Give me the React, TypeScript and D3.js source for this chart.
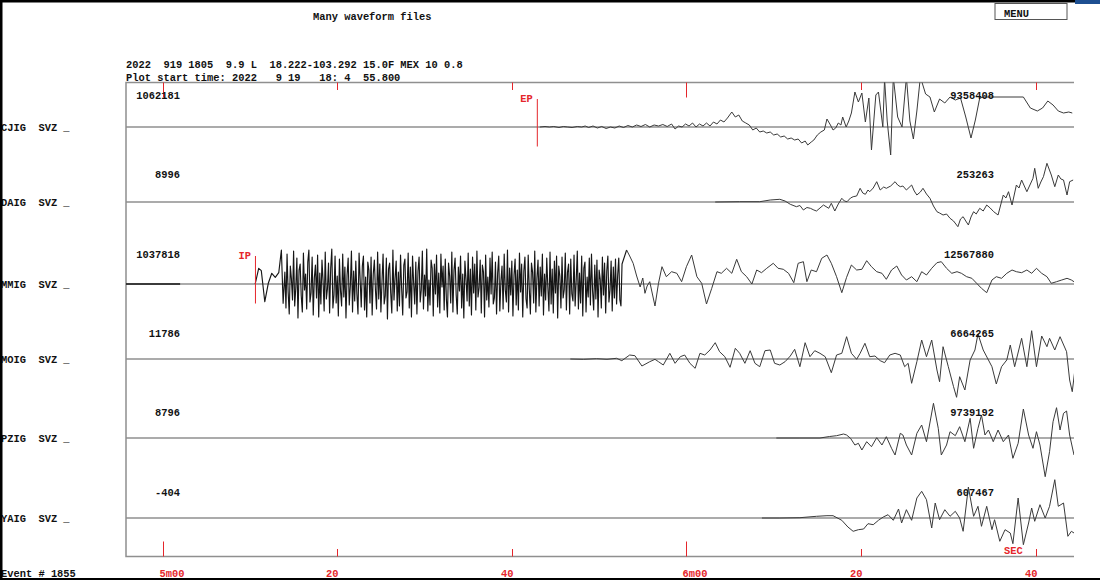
import React from "react";
import * as d3 from "d3";

type Pt = [number, number];

// ---------- texts ----------
const TITLE = "Many waveform files";
const HEADER_1 = "2022  919 1805  9.9 L  18.222-103.292 15.0F MEX 10 0.8";
const HEADER_2 = "Plot start time: 2022   9 19   18: 4  55.800";
const EVENT_LABEL = "Event # 1855";
const MENU_LABEL = "MENU";
const UNIT_LABEL = "SEC";

// ---------- channels ----------
const STATIONS = ["CJIG", "DAIG", "MMIG", "MOIG", "PZIG", "YAIG"];
const COMPONENT = "SVZ";
const LEFT_AMPS = ["1062181", "8996", "1037818", "11786", "8796", "-404"];
const RIGHT_AMPS = ["9358408", "253263", "12567880", "6664265", "9739192", "607467"];

// ---------- time axis (seconds after plot start 18:04:55.8) ----------
const PLOT_SECONDS = 108.6;
const TICK_TIMES = [4.2, 24.2, 44.2, 64.2, 84.2, 104.2];
const TICK_LABELS = ["5m00", "20", "40", "6m00", "20", "40"];
const TICK_MAJOR = [true, false, false, true, false, false];

// ---------- phase picks ----------
const PHASE_STATIONS = ["CJIG", "MMIG"];
const PHASE_NAMES = ["EP", "IP"];
const PHASE_TIMES = [47.12, 14.83];

// ---------- waveforms: [seconds, relative amplitude] ----------
const CJIG: Pt[] = [
  [47.4, 0], [48.0, 0.5], [48.5, 0], [49.0, 0.5], [49.6, -0.5], [50.1, 0.5], [50.6, 0], [51.1, -0.5],
  [51.7, 0.5], [52.2, 0], [52.6, 1], [53.0, -0.5], [53.5, 1], [54.0, -1], [54.5, 0.5], [55.0, -1.5],
  [55.5, 0], [56.0, -1], [56.5, 1], [57.0, -0.5], [57.5, 1.5], [58.0, 0], [58.5, 2], [59.0, 0.5],
  [59.5, 2.5], [60.0, 0], [60.5, 2], [61.0, 1], [61.5, 2.5], [62.0, 0.5], [62.5, 3], [62.9, -2],
  [63.3, 1], [63.7, 0], [64.1, 3], [64.5, 1], [64.9, 4], [65.3, 0], [65.7, 3], [66.1, 1], [66.5, 4],
  [66.9, 1], [67.3, 5], [67.7, 3], [68.1, 7], [68.5, 5], [68.9, 9], [69.4, 15], [69.8, 10], [70.2, 12],
  [70.6, 6], [71.0, 4], [71.4, 2], [71.8, -3], [72.2, -1], [72.6, -5], [73.0, -4], [73.4, -6], [73.8, -5],
  [74.2, -8], [74.6, -7], [75.0, -10], [75.4, -9], [75.8, -12], [76.2, -11], [76.6, -13], [77.0, -12],
  [77.4, -16], [77.8, -14], [78.1, -18], [78.5, -15], [78.8, -13], [79.2, -8], [79.6, -5], [80.0, -3],
  [80.3, 8], [80.7, 2], [81.0, -3], [81.3, -1], [81.6, 4], [81.9, 2], [82.1, 10], [82.5, 0], [82.8, 6],
  [83.1, 14], [83.5, 35], [83.9, 25], [84.3, 34], [84.7, 5], [85.1, 29], [85.4, -23], [85.9, 32],
  [86.2, 35], [86.7, 0], [86.9, 48], [87.2, 6], [87.6, -28], [87.9, 50], [88.4, 10], [88.9, 0], [89.4, 50],
  [89.8, 6], [90.2, -12], [90.6, 16], [91.0, 50], [91.6, 33], [92.1, 30], [92.6, 15], [93.2, 28],
  [93.8, 24], [94.4, 30], [95.0, 27], [95.6, 29], [96.2, 10], [96.8, -11], [97.3, 7], [97.8, 29],
  [98.3, 30], [102.8, 30], [103.6, 19], [104.4, 16], [105.0, 19], [105.6, 26], [106.2, 22], [106.8, 16],
  [107.4, 14], [108.0, 15], [108.4, 14],
];

const DAIG: Pt[] = [
  [67.5, 0], [70.3, 0.3], [72.6, 0.3], [73.8, 2], [74.9, 2.7], [75.5, 1], [76.1, -2.3], [76.8, -4.7],
  [77.2, -3.5], [77.6, -8], [78.0, -5.5], [78.4, -6.3], [78.8, -8], [79.1, -9], [79.5, -6], [79.9, -3],
  [80.5, -6.3], [80.8, -1.3], [81.2, -9], [81.6, -2], [82.0, 3.7], [82.3, 1], [82.6, 0.3], [83.0, 4],
  [83.3, 5.3], [83.7, 6], [84.1, 13.7], [84.4, 9], [84.7, 7.7], [85.0, 12], [85.2, 10.3], [85.6, 14],
  [86.0, 20.3], [86.4, 12], [86.8, 15], [87.1, 13.7], [87.6, 16], [88.1, 20.3], [88.4, 17], [88.7, 15.3],
  [89.0, 16], [89.4, 12], [90.0, 17], [90.3, 11], [90.6, 7], [91.0, 10], [91.3, 13.7], [91.7, 8],
  [92.1, 3.7], [92.5, -4], [92.9, -9.7], [93.2, -11], [93.6, -13], [94.0, -12], [94.4, -16.3],
  [94.8, -19], [95.3, -24.7], [95.6, -17], [95.9, -14.7], [96.2, -19], [96.5, -23], [96.8, -15],
  [97.1, -9.7], [97.4, -12], [97.8, -6.3], [98.2, -9], [98.6, -3], [99.0, -6], [99.4, -9.7], [99.9, -13],
  [100.5, 7], [100.8, 4], [101.1, 10.3], [101.5, -3], [102.0, 17], [102.3, 14], [102.6, 22], [103.2, 10.3],
  [103.5, 16], [103.9, 23.7], [104.1, 33.7], [104.5, 13.7], [104.8, 20], [105.1, 25.3], [105.5, 38.7],
  [106.0, 27], [106.4, 15.3], [106.8, 27], [107.1, 23], [107.4, 22], [107.8, 7], [108.1, 20.3], [108.5, 22],
];

const MMIG_PRE: Pt[] = [[0, 0], [6.2, 0]];
const MMIG_ONSET: Pt[] = [
  [14.8, 0], [15.2, 15.7], [15.5, 13.3], [15.9, -17.7], [16.3, 0.7], [16.7, 10.7], [17.1, 6.7],
  [17.5, 11.3], [17.8, 34], [18.0, -19.3],
];
const MMIG_DENSE_START = 18.2;
const MMIG_DENSE_STEP = 0.125;
const MMIG_DENSE: number[] = [
  12, -24, 30, -8, -30, 18, 5, -16, 33, -22,
  -4, 26, -34, 14, 20, -12, -28, 31, -6, 10,
  -25, 22, 34, -18, -9, 27, -31, 6, 19, -14,
  29, -33, 11, -20, 24, 3, -27, 32, -15, -5,
  21, -29, 16, 35, -24, -11, 28, -19, 8, -32,
  25, -7, -22, 30, -13, 17, -34, 9, 26, -21,
  -2, 33, -28, 13, -17, 23, -10, -30, 31, 4,
  -23, 18, 28, -26, 7, -33, 22, 14, -19, 27,
  -31, 10, 24, -6, -25, 32, -15, 20, -28, 2,
  30, -20, -12, 26, -35, 15, 21, -9, -29, 34,
  -16, 6, 23, -27, 12, -22, 29, -4, -31, 19,
  25, -14, -8, 31, -24, 17, -33, 28, 1, -20,
  22, -30, 13, 27, -18, -6, 33, -25, 9, -12,
  35, -27, 4, -21, 24, 16, -32, 20, -10, 29,
  -23, 11, -29, 30, -3, 18, -26, 25, -15, -33,
  21, 8, -19, 32, -28, 14, 26, -11, -30, 17,
  -7, 28, -24, 10, -34, 23, 5, -17, 31, -22,
  15, -31, 27, -9, 20, -26, 33, -13, -4, 24,
  -29, 19, 12, -33, 29, -16, 7, -23, 26, -10,
  32, -20, -14, 22, -30, 11, 28, -27, 3, 18,
  -25, 30, -6, -18, 34, -28, 16, -11, 23, -32,
  9, 25, -21, 14, -26, 31, -8, 20, -33, 13,
  27, -15, -24, 29, -5, -30, 21, 12, -19, 33,
  -28, 6, 24, -22, 17, -12, 30, -31, 10, -16,
  26, -3, -27, 32, -20, 15, -29, 23, -9, 28,
  -34, 18, 8, -24, 27, -14, -6, 31, -26, 12,
  20, -30, 25, -10, -17, 29, -22, 4, 33, -25,
  11, -19, 28, -32, 16, 22, -28, 7, -13, 26,
  -21, 30, -7, -26, 19, -15, 24, -33, 14, 5,
  -24, 27, -11, 21, -29, 13, 28, -18, -6, 23,
  -27, 17, -14, 25, -20, 9, 26, -16, -22, 20,
];
const MMIG_CODA: Pt[] = [
  [57.35, 34], [57.7, 28], [58.1, 20.7], [58.5, 8], [58.9, -3], [59.2, 6], [59.45, -9.3], [59.7, -2],
  [60.0, 2.3], [60.3, -10], [60.6, -22], [61.0, 0.7], [61.4, 17.3], [61.9, 7.3], [62.5, 12.3],
  [63.1, 10.7], [63.65, 2.3], [64.2, 17.3], [64.8, 29], [65.4, 7.3], [65.95, 0.7], [66.5, -20],
  [67.1, -4.3], [67.7, 12.3], [68.2, 10.7], [68.8, 15.7], [69.4, 10.7], [69.96, 24.7], [70.5, 12.3],
  [71.1, 7.3], [71.7, 0], [72.25, 14], [72.8, 11.3], [73.4, 15.7], [74.15, 20.7], [74.7, 15.7],
  [75.3, 14.7], [75.9, 10.7], [76.5, 1.3], [77.0, 20.7], [77.6, 22.3], [78.0, 2.3], [78.5, 14],
  [79.1, 12.3], [79.7, 25.7], [80.3, 29], [80.8, 20.7], [81.4, 7.3], [82.0, -8.7], [82.55, 6.7],
  [83.1, 19], [83.7, 14], [84.3, 14.7], [84.85, 23.3], [85.4, 17.3], [86.0, 12.3], [86.6, 10.7],
  [87.1, 4.7], [87.7, 14], [88.3, 18], [88.85, 9], [89.4, 4], [90.0, 7.3], [90.6, 2.3], [91.15, 12.3],
  [91.7, 9], [92.3, 15.7], [92.9, 21.3], [93.4, 22.3], [94.0, 15.7], [94.6, 10.7], [95.2, 12.3],
  [95.7, 10.7], [96.3, 7.3], [96.9, 5.7], [97.45, 0.7], [98.0, -4.3], [98.6, -8.7], [99.2, 4],
  [99.7, 7.3], [100.3, 5.7], [100.9, 10.7], [101.5, 14], [102.0, 12.3], [102.6, 11.3], [103.2, 14],
  [103.75, 10.7], [104.3, 15.7], [104.9, 10.7], [105.5, 7.3], [106.0, 0.7], [106.6, 2.3], [107.2, 4],
  [107.8, 5.7], [108.3, 4], [108.7, 1.7],
];

const MOIG: Pt[] = [
  [50.9, 0], [52.4, -0.3], [53.9, 0.3], [55.1, -0.3], [56.2, 0.7], [56.8, -1.7], [57.7, 4], [58.3, 3.3],
  [59.1, -7], [60.0, -2.7], [60.6, -0.3], [61.0, -2.7], [61.55, -6], [62.3, 5.7], [62.9, -4.3],
  [63.5, 2.3], [64.0, 4], [64.6, -4.3], [65.2, -9.3], [65.75, 5.7], [66.3, 4], [66.9, 9], [67.5, 16.3],
  [68.0, 7.3], [68.6, 2.3], [69.2, -8.3], [69.8, 10.7], [70.3, 5.7], [70.9, -4.3], [71.5, 8.3],
  [72.05, -4.3], [72.6, -7.7], [73.2, 8.3], [73.8, 9], [74.3, -4.3], [74.9, -6], [75.5, -2.7], [76.1, 3],
  [76.6, 9.7], [77.2, -7.7], [77.8, 16.3], [78.35, 2.3], [78.9, 8.3], [79.5, 5.7], [80.1, 2.3],
  [80.8, -13.7], [81.4, 4], [82.0, 5.7], [82.55, 22.3], [83.1, 5.7], [83.7, -0.3], [84.1, 5.7],
  [84.65, 15.7], [85.2, 2.3], [85.8, 3], [86.4, -1.7], [86.9, -3.7], [87.5, 4], [88.1, 5.7], [88.7, 4],
  [89.2, -7.7], [89.6, -4.3], [90.0, -24.3], [90.6, -2.7], [91.15, 19], [91.7, 2.3], [92.3, 19],
  [92.9, -11], [93.2, -22.7], [93.6, 12.3], [94.2, -7.7], [94.8, -27.7], [95.15, -38.3], [95.5, -17.7],
  [96.1, -31], [96.7, -1], [97.25, 9], [97.6, 25], [98.2, 9], [98.8, -1], [99.2, -7.7], [99.7, -25],
  [100.3, -7.7], [100.9, -1], [101.3, 14], [101.8, -7.7], [102.6, 20.7], [103.2, -7.7], [103.75, 28.3],
  [104.3, -7.7], [104.9, 23], [105.5, 12.3], [105.8, 20.7], [106.4, 9], [107.0, 22.3], [107.75, 7.3],
  [108.1, -21], [108.4, -32.7], [108.7, -11],
];

const PZIG: Pt[] = [
  [74.5, 0], [77.2, 0], [79.5, 0], [80.6, 1.5], [81.4, 2.3], [82.2, 4], [82.55, 3], [83.0, -0.3],
  [83.5, -7], [83.9, -5.3], [84.3, -12], [84.85, -3.7], [85.4, -8.7], [86.0, 0.3], [86.6, -7],
  [87.1, 1.3], [87.7, -10.3], [88.1, -17], [88.7, 4.7], [89.0, 3], [89.4, -7], [90.0, -17], [90.6, 4.7],
  [91.15, 13], [91.7, -3.7], [92.5, 34.7], [93.05, 9.7], [93.4, -17], [94.0, -7], [94.4, 6.3],
  [95.0, 2.3], [95.5, 11.3], [96.1, -3.7], [96.7, 19.7], [97.1, -10.3], [97.6, 9.7], [98.0, 23],
  [98.4, 3], [98.8, 8], [99.35, -3.7], [99.9, 8], [100.5, -3.7], [101.1, 3], [101.6, -20.3],
  [102.2, -5.3], [102.8, 29], [103.4, 3], [103.9, -10.3], [104.3, 6.3], [104.7, -7], [105.3, -38.7],
  [105.8, -13.7], [106.2, 16.3], [106.6, 30.3], [107.0, 8], [107.4, 24.7], [107.75, 27], [108.1, 3],
  [108.6, -17],
];

const YAIG: Pt[] = [
  [72.85, 0], [74.9, 0], [77.2, 0.3], [79.1, 1.7], [80.3, 2.3], [81.0, 2.3], [82.0, -2.3], [82.7, -9],
  [83.3, -13.3], [83.9, -11.7], [84.5, -11], [85.0, -5.7], [85.6, -6.7], [86.2, -2.3], [86.75, 1],
  [87.3, 3.3], [87.9, -2.3], [88.5, 9], [88.85, -5], [89.4, 8.3], [90.0, -2.3], [90.6, 20], [91.15, 26.7],
  [91.7, 18.3], [92.3, -10], [92.7, 15], [93.2, -1.7], [93.8, 8.3], [94.4, 1.7], [95.0, 6.7], [95.5, 0],
  [95.9, -13.3], [96.5, 31], [97.1, 1.7], [97.6, 11.7], [98.0, -8.3], [98.6, 11.7], [99.2, -11.7],
  [99.5, -1.7], [100.1, -23.3], [100.7, -11.7], [101.3, -15], [101.6, -25.7], [102.2, 20], [102.8, -26.7],
  [103.4, -5], [103.75, 10], [104.1, -3.3], [104.7, 13.3], [105.3, 0], [105.8, 11.7], [106.4, 38.3],
  [106.8, 11.7], [107.4, 15], [107.9, -18.3], [108.3, -13.3], [108.6, -15],
];

// ---------- layout ----------
const W = 1100;
const H = 580;
const PLOT_LEFT = 126;
const PLOT_RIGHT = 1074;
const PLOT_TOP = 82.5;
const PLOT_BOTTOM = 556.5;
const TRACE_BASE = [127, 202, 284, 359, 438, 518];
const AMP_LABEL_Y = [99, 178, 258, 337, 416, 495.5];
const FONT = "'Liberation Mono', 'DejaVu Sans Mono', monospace";
const FS = 10.4;
const RED = "#e5262b";
const TRACE = "#3a3a3a";
const TRACE_DARK = "#161616";
const GRAY = "#8f8f8f";

type Seg = { pts: Pt[]; dark: boolean; width: number };

export default function App() {
  const x = d3.scaleLinear().domain([0, PLOT_SECONDS]).range([PLOT_LEFT, PLOT_RIGHT]);
  const amp = d3.scaleLinear().domain([-50, 50]).range([50, -50]);
  const lineAt = (base: number) =>
    d3
      .line<Pt>()
      .x((d) => x(d[0]))
      .y((d) => base + amp(d[1]));

  const mmigDense: Pt[] = MMIG_DENSE.map((v, i) => [MMIG_DENSE_START + i * MMIG_DENSE_STEP, v]);
  const mmigBurst: Pt[] = [...MMIG_ONSET, ...mmigDense, MMIG_CODA[0]];

  const series: Record<string, Seg[]> = {
    CJIG: [{ pts: CJIG, dark: false, width: 1 }],
    DAIG: [{ pts: DAIG, dark: false, width: 1 }],
    MMIG: [
      { pts: MMIG_PRE, dark: true, width: 1.5 },
      { pts: mmigBurst, dark: true, width: 1.15 },
      { pts: MMIG_CODA, dark: false, width: 1 },
    ],
    MOIG: [{ pts: MOIG, dark: false, width: 1 }],
    PZIG: [{ pts: PZIG, dark: false, width: 1 }],
    YAIG: [{ pts: YAIG, dark: false, width: 1 }],
  };

  const textStyle: React.CSSProperties = { whiteSpace: "pre" };

  return (
    <svg
      width={W}
      height={H}
      style={{ position: "absolute", left: 0, top: 0, background: "#fff" }}
      fontFamily={FONT}
      fontWeight="bold"
      fontSize={FS}
    >
      <defs>
        <clipPath id="plotclip">
          <rect x={PLOT_LEFT} y={PLOT_TOP} width={PLOT_RIGHT - PLOT_LEFT} height={PLOT_BOTTOM - PLOT_TOP} />
        </clipPath>
      </defs>
      <rect x={0} y={0} width={W} height={H} fill="#fff" />

      {/* header */}
      <text x={313} y={19.5} fill="#111" style={textStyle}>{TITLE}</text>
      <text x={126} y={68} fill="#111" style={textStyle}>{HEADER_1}</text>
      <text x={126} y={80.5} fill="#111" style={textStyle}>{HEADER_2}</text>

      {/* menu */}
      <rect x={995} y={3.5} width={72} height={16} fill="#fff" stroke="#555" strokeWidth={1} />
      <text x={1004} y={16.5} fill="#111" style={textStyle}>{MENU_LABEL}</text>

      {/* baselines */}
      {TRACE_BASE.map((b, i) => (
        <line key={"bl" + i} x1={PLOT_LEFT} x2={PLOT_RIGHT} y1={b} y2={b} stroke={GRAY} strokeWidth={1.5} />
      ))}

      {/* plot frame (top, left, bottom) */}
      <path
        d={`M${PLOT_RIGHT},${PLOT_TOP}H${PLOT_LEFT}V${PLOT_BOTTOM}H${PLOT_RIGHT}`}
        fill="none"
        stroke={GRAY}
        strokeWidth={1.5}
      />

      {/* ticks */}
      {TICK_TIMES.map((t, i) => {
        const tx = Math.round(x(t)) + 0.5;
        const len = TICK_MAJOR[i] ? 15 : 7.5;
        return (
          <g key={"tk" + i}>
            <line x1={tx} x2={tx} y1={PLOT_TOP} y2={PLOT_TOP + len} stroke={RED} strokeWidth={1} />
            <line x1={tx} x2={tx} y1={PLOT_BOTTOM} y2={PLOT_BOTTOM - len} stroke={RED} strokeWidth={1} />
            <text
              x={TICK_MAJOR[i] ? tx - 4 : tx + 1}
              y={577}
              fill={RED}
              textAnchor={TICK_MAJOR[i] ? "start" : "end"}
              style={textStyle}
            >
              {TICK_LABELS[i]}
            </text>
          </g>
        );
      })}
      <text x={1004} y={553.5} fill={RED} style={textStyle}>{UNIT_LABEL}</text>

      {/* traces */}
      <g clipPath="url(#plotclip)">
        {STATIONS.map((s, i) =>
          series[s].map((seg, j) => (
            <path
              key={s + j}
              d={lineAt(TRACE_BASE[i])(seg.pts) || ""}
              fill="none"
              stroke={seg.dark ? TRACE_DARK : TRACE}
              strokeWidth={seg.width}
              strokeLinejoin="round"
            />
          ))
        )}
      </g>

      {/* phase picks */}
      {PHASE_STATIONS.map((s, i) => {
        const b = TRACE_BASE[STATIONS.indexOf(s)];
        const px = x(PHASE_TIMES[i]);
        return (
          <g key={"ph" + i}>
            <line x1={px} x2={px} y1={b - 28} y2={b + 19.5} stroke={RED} strokeWidth={1} />
            <text x={px - 4.5} y={b - 25} fill={RED} textAnchor="end" style={textStyle}>
              {PHASE_NAMES[i]}
            </text>
          </g>
        );
      })}

      {/* amplitude labels */}
      {STATIONS.map((s, i) => (
        <g key={"al" + i}>
          <text x={180} y={AMP_LABEL_Y[i]} fill="#111" textAnchor="end" style={textStyle}>
            {LEFT_AMPS[i]}
          </text>
          <text x={994} y={AMP_LABEL_Y[i]} fill="#111" textAnchor="end" style={textStyle}>
            {RIGHT_AMPS[i]}
          </text>
        </g>
      ))}

      {/* station labels */}
      {STATIONS.map((s, i) => (
        <text key={"sl" + i} x={1} y={TRACE_BASE[i] + 3.5} fill="#111" style={textStyle}>
          {`${s}  ${COMPONENT} _`}
        </text>
      ))}
      <text x={1} y={577} fill="#111" style={textStyle}>{EVENT_LABEL}</text>

      {/* outer window frame */}
      <rect x={0} y={0} width={1075} height={2.5} fill="#000" />
      <rect x={1075} y={0} width={25} height={4} fill="#1d4f91" />
      <rect x={0} y={0} width={2.5} height={H} fill="#000" />
      <rect x={0} y={578} width={W} height={2} fill="#000" />
    </svg>
  );
}
